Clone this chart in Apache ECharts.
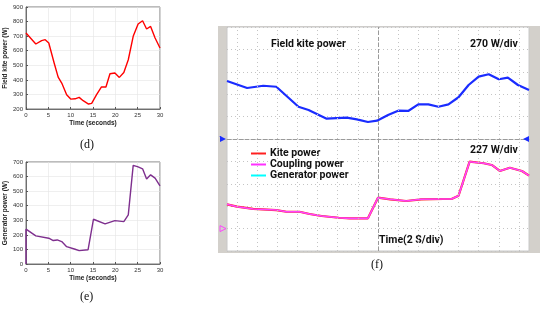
<!DOCTYPE html>
<html>
<head>
<meta charset="utf-8">
<script src="https://cdn.jsdelivr.net/npm/echarts@6/dist/echarts.min.js"></script>
<style>
  html, body { margin: 0; padding: 0; background: #fff; }
  #main { width: 550px; height: 309px; }
</style>
</head>
<body>
<div id="main"></div>
<script>
// (d) field kite power, W
const kiteTime = [0, 2.2, 3.5, 4.3, 5.1, 6.3, 7.2, 8, 9.1, 10, 11, 11.9, 12.8, 14, 14.7, 15.8, 16.9, 17.9, 18.8, 19.9, 20.9, 21.9, 22.9, 24, 25.1, 26.1, 27, 27.9, 28.9, 30];
const kitePower = [722, 646, 669, 676, 653, 516, 419, 378, 298, 268, 270, 280, 257, 234, 239, 298, 351, 351, 442, 447, 417, 451, 538, 699, 783, 806, 749, 767, 687, 619];

// (e) generator power, W
const genTime = [0, 0, 2.2, 5.1, 6.1, 7, 8, 9.1, 11, 11.9, 13.9, 15.1, 17.7, 19.9, 21.9, 22.9, 24, 25.1, 26.1, 27, 27.9, 28.9, 30];
const genPower = [0, 239, 193, 177, 161, 165, 154, 119, 101, 92, 98, 307, 275, 298, 291, 337, 677, 666, 653, 583, 612, 589, 536];

// (f) scope traces: field kite power (270 W/div), coupling power (227 W/div)
const scopeKiteTime = [0, 2, 3.6, 4.9, 7.1, 8.1, 9.9, 11.9, 12.9, 14, 14.9, 16, 17, 18, 19, 20, 21, 22, 23, 24, 25, 26, 27, 27.9, 28.9, 30];
const scopeKitePower = [699, 615, 642, 630, 389, 350, 245, 257, 237, 205, 221, 289, 341, 338, 418, 418, 389, 418, 503, 651, 751, 780, 720, 739, 651, 591];
const couplingTime = [0, 1, 2.6, 4.9, 5.9, 7.2, 8.2, 9.4, 11.1, 12.2, 14, 15, 16.2, 17.8, 19.3, 21.5, 22.3, 23, 24.1, 25.5, 26.3, 27.1, 28.1, 29.3, 30];
const couplingPower = [246, 222, 199, 188, 171, 171, 148, 128, 110, 104, 104, 313, 297, 280, 297, 300, 300, 333, 678, 662, 645, 584, 617, 584, 536];

const zip = (xs, ys) => xs.map((x, i) => [x, ys[i]]);

let chart = echarts.init(document.getElementById('main'));

const tickFont = { fontSize: 6, color: '#333', fontFamily: 'Liberation Sans' };
const nameFont = { fontSize: 6.5, color: '#222', fontWeight: 'bold', fontFamily: 'Liberation Sans' };
const smallGrid = { show: true, lineStyle: { color: '#e4e4e4', width: 0.6 } };
const frameLine = { show: true, onZero: false, lineStyle: { color: '#555', width: 0.8 } };
const scopeFont = 'Roboto';
const scopeText = { fontSize: 10.5, fontWeight: 'bold', fill: '#111', fontFamily: scopeFont };

// dotted vertical grid of the scope (2 s per division, centred on 15 s)
let vLines = [];
for (let t = 1; t < 30; t += 2) vLines.push({ xAxis: t });

let option = {
    animation: false,
    backgroundColor: '#fff',
    grid: [
        { left: 26, top: 7, width: 134, height: 102, show: true, borderColor: '#555', borderWidth: 0.8 },
        { left: 26, top: 162, width: 134, height: 102, show: true, borderColor: '#555', borderWidth: 0.8 },
        { left: 227, top: 27, width: 302, height: 224, show: true, backgroundColor: '#fff', borderColor: '#c8c8c8', borderWidth: 1 }
    ],
    xAxis: [
        { gridIndex: 0, type: 'value', min: 0, max: 30, interval: 5, name: 'Time (seconds)', nameLocation: 'middle', nameGap: 11, nameTextStyle: nameFont,
          axisLabel: Object.assign({ margin: 3 }, tickFont), axisLine: frameLine, axisTick: { inside: true, length: 2 }, splitLine: smallGrid },
        { gridIndex: 1, type: 'value', min: 0, max: 30, interval: 5, name: 'Time (seconds)', nameLocation: 'middle', nameGap: 11, nameTextStyle: nameFont,
          axisLabel: Object.assign({ margin: 3 }, tickFont), axisLine: frameLine, axisTick: { inside: true, length: 2 }, splitLine: smallGrid },
        { gridIndex: 2, type: 'value', min: 0, max: 30, axisLabel: { show: false }, axisTick: { show: false },
          axisLine: { show: true, onZero: true, onZeroAxisIndex: 2, lineStyle: { color: '#9a9a9a', type: 'dashed', width: 1 } }, splitLine: { show: false } }
    ],
    yAxis: [
        { gridIndex: 0, type: 'value', min: 200, max: 900, interval: 100, name: 'Field kite power (W)', nameLocation: 'middle', nameGap: 16, nameTextStyle: nameFont,
          axisLabel: Object.assign({ margin: 3 }, tickFont), axisLine: frameLine, axisTick: { inside: true, length: 2 }, splitLine: smallGrid },
        { gridIndex: 1, type: 'value', min: 0, max: 700, interval: 100, name: 'Generator power (W)', nameLocation: 'middle', nameGap: 16, nameTextStyle: nameFont,
          axisLabel: Object.assign({ margin: 3 }, tickFont), axisLine: frameLine, axisTick: { inside: true, length: 2 }, splitLine: smallGrid },
        { gridIndex: 2, type: 'value', min: -1350, max: 1350, interval: 270, axisLabel: { show: false }, axisTick: { show: false }, axisLine: { show: false },
          splitLine: { show: true, lineStyle: { color: '#c4c4c4', type: [1, 3], width: 1 } } },
        { gridIndex: 2, type: 'value', min: -227, max: 2043, interval: 227, show: false, splitLine: { show: false } }
    ],
    legend: {
        data: ['Kite power', 'Coupling power', 'Generator power'],
        orient: 'vertical', left: 246, top: 143, itemWidth: 15, itemHeight: 2, itemGap: 0, icon: 'rect',
        textStyle: { fontSize: 10.5, fontWeight: 'bold', color: '#111', fontFamily: scopeFont, lineHeight: 10, padding: [0, 0, 0, -1] }
    },
    series: [
        { type: 'line', xAxisIndex: 0, yAxisIndex: 0, data: zip(kiteTime, kitePower), symbol: 'none', lineStyle: { color: '#ff0000', width: 1.4 }, itemStyle: { color: '#ff0000' } },
        { type: 'line', xAxisIndex: 1, yAxisIndex: 1, data: zip(genTime, genPower), symbol: 'none', lineStyle: { color: '#7e2f8e', width: 1.4 }, itemStyle: { color: '#7e2f8e' } },
        { name: 'Field kite power', type: 'line', xAxisIndex: 2, yAxisIndex: 2, data: zip(scopeKiteTime, scopeKitePower), symbol: 'none',
          lineStyle: { color: '#1a2cff', width: 2.2 }, itemStyle: { color: '#1a2cff' },
          markLine: { silent: true, symbol: 'none', label: { show: false },
              data: vLines, lineStyle: { color: '#c4c4c4', type: [1, 3], width: 1 } },
          markPoint: { silent: true, label: { show: false }, symbol: 'triangle', symbolSize: [6, 6], itemStyle: { color: '#1a2cff' },
              data: [ { coord: [0, 0], symbolRotate: -90, symbolOffset: [-4, 0] }, { coord: [30, 0], symbolRotate: 90, symbolOffset: [-3, 0] } ] } },
        { name: 'Generator power', type: 'line', xAxisIndex: 2, yAxisIndex: 3, data: zip(couplingTime, couplingPower), symbol: 'none', lineStyle: { color: '#00ffff', width: 1 }, itemStyle: { color: '#00ffff' } },
        { name: 'Kite power', type: 'line', xAxisIndex: 2, yAxisIndex: 3, data: zip(couplingTime, couplingPower), symbol: 'none', lineStyle: { color: '#ff2020', width: 2.2 }, itemStyle: { color: '#ff2020' } },
        { name: 'Coupling power', type: 'line', xAxisIndex: 2, yAxisIndex: 3, data: zip(couplingTime, couplingPower), symbol: 'none',
          lineStyle: { color: '#ff44ff', width: 1.6 }, itemStyle: { color: '#ff30ff' },
          markLine: { silent: true, symbol: 'none', label: { show: false }, data: [{ xAxis: 15 }], lineStyle: { color: '#9a9a9a', type: 'dashed', width: 1 } },
          markPoint: { silent: true, label: { show: false }, symbol: 'triangle', symbolSize: [6, 6], itemStyle: { color: 'transparent', borderColor: '#ff44ff', borderWidth: 1 },
              data: [ { coord: [0, 0], symbolRotate: -90, symbolOffset: [-4, 0] } ] } }
    ],
    graphic: [
        { type: 'rect', z: -10, silent: true, shape: { x: 218, y: 26, width: 322, height: 227 }, style: { fill: '#d3d0cb' } },
        { type: 'text', left: 219, top: 135, silent: true, style: { text: '1', fontSize: 6, fill: '#1a2cff', fontFamily: scopeFont } },
        { type: 'text', left: 271, top: 39, style: Object.assign({ text: 'Field kite power' }, scopeText) },
        { type: 'text', left: 470, top: 39, style: Object.assign({ text: '270 W/div' }, scopeText) },
        { type: 'text', left: 470, top: 145, style: Object.assign({ text: '227 W/div' }, scopeText) },
        { type: 'text', left: 379, top: 235, style: Object.assign({ text: 'Time(2 S/div)' }, scopeText) },
        { type: 'text', left: 80, top: 139, style: { text: '(d)', fontSize: 12, fill: '#111', fontFamily: 'Liberation Serif' } },
        { type: 'text', left: 80, top: 291, style: { text: '(e)', fontSize: 12, fill: '#111', fontFamily: 'Liberation Serif' } },
        { type: 'text', left: 371, top: 259, style: { text: '(f)', fontSize: 12, fill: '#111', fontFamily: 'Liberation Serif' } }
    ]
};

chart.setOption(option);

window.addEventListener('resize', () => {
    chart.resize();
});
</script>
</body>
</html>
